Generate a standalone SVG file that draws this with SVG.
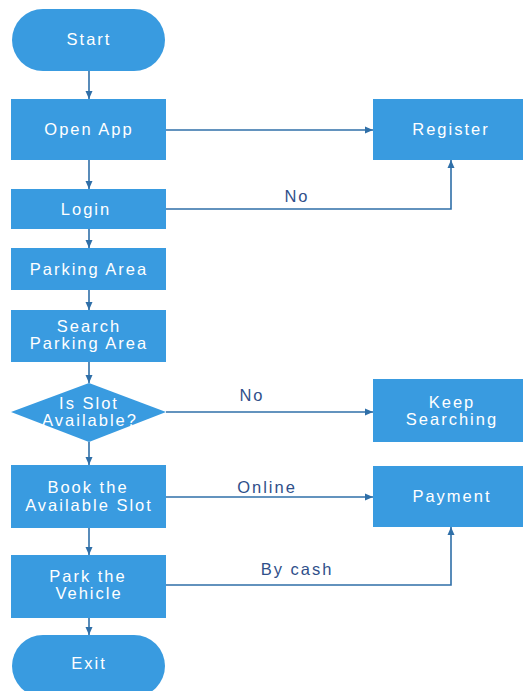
<svg xmlns="http://www.w3.org/2000/svg" width="523" height="691" viewBox="0 0 523 691">
  <defs>
    <marker id="arrow" viewBox="0 0 8 8" refX="8" refY="4" markerWidth="8" markerHeight="8" markerUnits="userSpaceOnUse" orient="auto">
      <path d="M0,0.5 L8,4 L0,7.5 Z" fill="#2f6fa8"/>
    </marker>
    <style>
      .box { fill: #399be0; }
      .txt { font-family: "Liberation Sans", Arial, sans-serif; font-size: 16.5px; fill: #ffffff; text-anchor: middle; letter-spacing: 2px; }
      .lbl { font-family: "Liberation Sans", Arial, sans-serif; font-size: 16.5px; fill: #2f4f8a; text-anchor: middle; letter-spacing: 2px; }
      .edge { fill: none; stroke: #2f6fa8; stroke-width: 1.6; marker-end: url(#arrow); }
    </style>
  </defs>
  <rect width="523" height="691" fill="#ffffff"/>

  <g id="connectors">
    <path class="edge" d="M89,71 V99"/>
    <path class="edge" d="M166,130 H373"/>
    <path class="edge" d="M89,160 V189"/>
    <path class="edge" d="M166,209 H451 V160"/>
    <path class="edge" d="M89,229 V248"/>
    <path class="edge" d="M89,290 V310"/>
    <path class="edge" d="M89,362 V383"/>
    <path class="edge" d="M166,412 H373"/>
    <path class="edge" d="M89,442 V465"/>
    <path class="edge" d="M166,497 H373"/>
    <path class="edge" d="M89,528 V555"/>
    <path class="edge" d="M166,585 H451 V527"/>
    <path class="edge" d="M89,618 V635"/>
    <text class="lbl" x="297" y="202">No</text>
    <text class="lbl" x="252" y="401">No</text>
    <text class="lbl" x="267" y="493">Online</text>
    <text class="lbl" x="297" y="575">By cash</text>
  </g>

  <g id="start">
    <rect class="box" x="12" y="9" width="153" height="62" rx="31" ry="31"/>
    <text class="txt" x="89" y="45">Start</text>
  </g>
  <g id="open-app">
    <rect class="box" x="11" y="99" width="155" height="61"/>
    <text class="txt" x="89" y="135">Open App</text>
  </g>
  <g id="register">
    <rect class="box" x="373" y="99" width="150" height="61"/>
    <text class="txt" x="451" y="135">Register</text>
  </g>
  <g id="login">
    <rect class="box" x="11" y="189" width="155" height="40"/>
    <text class="txt" x="86" y="215">Login</text>
  </g>
  <g id="parking-area">
    <rect class="box" x="11" y="248" width="155" height="42"/>
    <text class="txt" x="89" y="275">Parking Area</text>
  </g>
  <g id="search-parking-area">
    <rect class="box" x="11" y="310" width="155" height="52"/>
    <text class="txt" x="89" y="332">Search</text>
    <text class="txt" x="89" y="349">Parking Area</text>
  </g>
  <g id="is-slot-available">
    <polygon class="box" points="89,383 166,412 89,442 11,412"/>
    <text class="txt" x="89" y="409">Is Slot</text>
    <text class="txt" x="90" y="426">Available?</text>
  </g>
  <g id="keep-searching">
    <rect class="box" x="373" y="379" width="150" height="63"/>
    <text class="txt" x="452" y="408">Keep</text>
    <text class="txt" x="452" y="425">Searching</text>
  </g>
  <g id="book-slot">
    <rect class="box" x="11" y="465" width="155" height="63"/>
    <text class="txt" x="88" y="493">Book the</text>
    <text class="txt" x="89" y="511">Available Slot</text>
  </g>
  <g id="payment">
    <rect class="box" x="373" y="466" width="150" height="61"/>
    <text class="txt" x="452" y="502">Payment</text>
  </g>
  <g id="park-vehicle">
    <rect class="box" x="11" y="555" width="155" height="63"/>
    <text class="txt" x="88" y="582">Park the</text>
    <text class="txt" x="89" y="599">Vehicle</text>
  </g>
  <g id="exit">
    <rect class="box" x="12" y="635" width="153" height="62" rx="31" ry="31"/>
    <text class="txt" x="89" y="669">Exit</text>
  </g>
</svg>
